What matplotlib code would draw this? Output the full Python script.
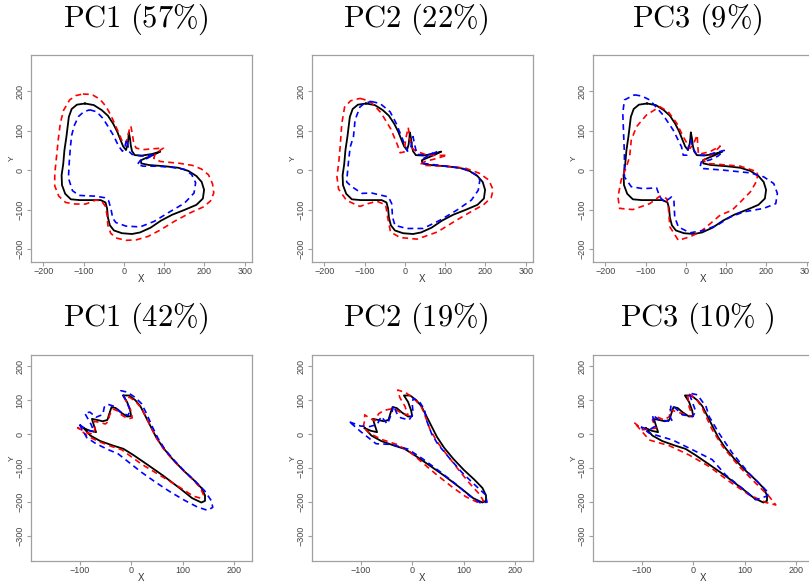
import numpy as np
import matplotlib
matplotlib.use("Agg")
import matplotlib.pyplot as plt

# ---------- Data ----------

TOP_TITLES = ["PC1\\ (57\\%)", "PC2\\ (22\\%)", "PC3\\ (9\\%)"]
BOTTOM_TITLES = ["PC1\\ (42\\%)", "PC2\\ (19\\%)", "PC3\\ (10\\%\\ )"]

TOP_XTICKS = [-200, -100, 0, 100, 200, 300]
TOP_YTICKS = [-200, -100, 0, 100, 200]
BOTTOM_XTICKS = [-100, 0, 100, 200]
BOTTOM_YTICKS = [-300, -200, -100, 0, 100, 200]

# mean outline, top row (butterfly)
TOP_MEAN = [
    (-97, 169), (-75, 165), (-55, 152), (-40, 138), (-27, 118), (-17, 98), (-8, 75),
    (-2, 60), (5, 51), (9, 65), (11, 82), (12, 96), (15, 80), (17, 62), (20, 48),
    (27, 38), (45, 37), (70, 41), (90, 47), (72, 38), (55, 31), (42, 25), (43, 17),
    (62, 13), (100, 10), (135, 6), (160, -2), (180, -15), (193, -30), (199, -50),
    (196, -72), (180, -88), (150, -101), (120, -113), (92, -128), (66, -146),
    (40, -158), (20, -162), (-5, -160), (-25, -153), (-35, -140), (-40, -120),
    (-42, -97), (-46, -82), (-58, -76), (-80, -76), (-110, -76), (-132, -74),
    (-146, -60), (-154, -38), (-155, -13), (-151, 15), (-148, 50), (-143, 85),
    (-140, 110), (-137, 135), (-130, 155), (-117, 166),
]

TOP_PC1_RED = [
    (-102, 193), (-80, 192), (-60, 180), (-45, 162), (-33, 140), (-22, 115), (-12, 92),
    (-4, 72), (4, 66), (10, 88), (14, 106), (17, 112), (21, 90), (24, 70), (30, 56),
    (48, 52), (70, 54), (98, 56), (78, 42), (74, 30), (90, 22), (140, 17), (170, 12),
    (192, 3), (210, -12), (220, -35), (223, -58), (215, -78), (198, -93), (165, -108),
    (125, -130), (90, -152), (60, -168), (30, -177), (5, -178), (-20, -172),
    (-33, -160), (-40, -140), (-42, -115), (-46, -92), (-56, -78), (-70, -76),
    (-95, -86), (-120, -86), (-145, -82), (-162, -66), (-172, -40), (-172, -10),
    (-168, 30), (-163, 80), (-158, 120), (-150, 152), (-135, 178), (-120, 189),
]

TOP_PC1_BLUE = [
    (-85, 153), (-68, 148), (-52, 131), (-38, 108), (-26, 88), (-14, 62), (-4, 48),
    (2, 56), (5, 72), (7, 78), (10, 62), (12, 48), (20, 40), (40, 36), (57, 36),
    (75, 40), (58, 30), (40, 24), (33, 14), (48, 10), (82, 10), (120, 7), (150, 2),
    (168, -11), (178, -32), (174, -58), (150, -84), (110, -108), (75, -130),
    (40, -144), (5, -142), (-20, -133), (-28, -122), (-32, -100), (-38, -78),
    (-48, -70), (-70, -66), (-95, -65), (-112, -64), (-128, -52), (-138, -20),
    (-136, 20), (-133, 60), (-130, 88), (-124, 112), (-113, 136), (-100, 148),
]

TOP_PC2_RED = [
    (-112, 182), (-87, 175), (-60, 146), (-35, 104), (-18, 62), (-12, 44), (-2, 46),
    (2, 80), (8, 108), (12, 80), (18, 55), (28, 48), (50, 40), (80, 37), (105, 38),
    (80, 30), (50, 22), (40, 16), (48, 12), (100, 10), (150, 5), (185, -8),
    (208, -25), (219, -50), (214, -70), (195, -88), (168, -103), (128, -127),
    (80, -157), (30, -175), (-12, -171), (-36, -157), (-43, -120), (-48, -88),
    (-70, -79), (-92, -85), (-112, -92), (-145, -77), (-165, -48), (-169, -17),
    (-164, 25), (-161, 60), (-157, 118), (-150, 160), (-135, 176),
]

TOP_PC2_BLUE = [
    (-83, 174), (-62, 169), (-37, 148), (-22, 119), (-5, 76), (6, 48), (14, 56),
    (20, 85), (24, 64), (30, 40), (55, 38), (80, 47), (56, 36), (44, 28), (46, 17),
    (87, 12), (145, 4), (178, -12), (186, -25), (182, -51), (165, -76), (128, -102),
    (87, -127), (45, -148), (4, -148), (-25, -140), (-31, -119), (-33, -85),
    (-41, -68), (-83, -58), (-107, -59), (-132, -42), (-145, -30), (-140, 25),
    (-136, 59), (-128, 85), (-124, 127), (-112, 160), (-100, 170),
]

TOP_PC3_RED = [
    (-65, 161), (-44, 148), (-23, 119), (-7, 85), (10, 55), (20, 70), (28, 89),
    (29, 65), (31, 40), (60, 47), (85, 61), (68, 42), (43, 25), (52, 17), (77, 15),
    (135, 10), (177, -4), (177, -25), (160, -55), (135, -81), (114, -102),
    (85, -114), (60, -136), (35, -157), (10, -169), (-19, -178), (-40, -144),
    (-44, -93), (-48, -72), (-65, -66), (-90, -85), (-132, -100), (-165, -97),
    (-169, -68), (-161, -25), (-148, 8), (-140, 34), (-136, 76), (-123, 110),
    (-98, 140),
]

TOP_PC3_BLUE = [
    (-128, 191), (-110, 188), (-90, 178), (-57, 140), (-32, 102), (-11, 59),
    (-7, 38), (2, 38), (6, 59), (12, 76), (18, 55), (27, 38), (52, 38), (75, 45),
    (95, 50), (80, 36), (60, 26), (38, 21), (35, 8), (43, 4), (93, 0), (160, -7),
    (193, -17), (218, -34), (227, -59), (223, -85), (193, -97), (143, -106),
    (110, -119), (77, -140), (43, -153), (10, -159), (-19, -144), (-28, -119),
    (-30, -76), (-36, -68), (-53, -81), (-65, -68), (-73, -45), (-107, -47),
    (-136, -42), (-153, -17), (-153, 42), (-155, 93), (-157, 144), (-153, 178),
]

# mean outline, bottom row (fork)
BOTTOM_MEAN = [
    (-92, 18), (-80, 10), (-68, 6), (-72, 25), (-76, 45), (-66, 42), (-55, 38),
    (-46, 42), (-42, 62), (-38, 80), (-30, 77), (-20, 64), (-8, 52), (0, 53),
    (-2, 70), (-8, 95), (-16, 114), (-4, 114), (8, 100), (18, 82), (26, 58),
    (36, 28), (48, -8), (62, -40), (80, -73), (100, -105), (120, -133), (136, -158),
    (143, -180), (143, -196), (136, -201), (118, -188), (95, -160), (62, -122),
    (30, -88), (4, -61), (-15, -43), (-36, -33), (-60, -20), (-79, -4),
]

BOTTOM_PC1_RED = [
    (-104, 20), (-88, 5), (-72, 0), (-70, 20), (-72, 38), (-62, 35), (-50, 30),
    (-44, 38), (-42, 55), (-36, 74), (-28, 70), (-18, 56), (-6, 45), (2, 48),
    (0, 68), (-8, 92), (-14, 110), (-2, 108), (10, 94), (20, 76), (28, 52), (38, 22),
    (50, -14), (64, -46), (82, -78), (102, -108), (120, -134), (134, -158),
    (140, -178), (134, -188), (120, -182), (98, -160), (72, -136), (46, -112),
    (20, -88), (0, -66), (-18, -46), (-38, -36), (-62, -22), (-84, -6),
]

BOTTOM_PC1_BLUE = [
    (-100, 28), (-85, 12), (-72, 8), (-78, 30), (-90, 62), (-80, 65), (-68, 50),
    (-55, 58), (-52, 80), (-45, 88), (-33, 82), (-20, 65), (-6, 55), (-2, 72),
    (-10, 100), (-20, 128), (-8, 124), (8, 108), (20, 90), (30, 60), (40, 25),
    (52, -12), (66, -46), (84, -78), (104, -110), (124, -138), (142, -166),
    (155, -195), (158, -215), (148, -224), (128, -214), (104, -195), (76, -170),
    (48, -142), (20, -112), (-5, -82), (-25, -58), (-45, -45), (-68, -28), (-86, -10),
]

BOTTOM_PC2_RED = [
    (-95, 21), (-92, 40), (-92, 57), (-80, 45), (-72, 40), (-65, 60), (-55, 70),
    (-42, 74), (-32, 72), (-20, 62), (-8, 56), (-14, 82), (-24, 108), (-28, 130),
    (-12, 122), (4, 104), (18, 80), (26, 50), (34, 16), (48, -22), (66, -58),
    (90, -105), (112, -146), (130, -176), (138, -196), (126, -200), (104, -184),
    (78, -156), (48, -120), (20, -84), (-6, -50), (-30, -30), (-58, -16), (-82, 2),
]

BOTTOM_PC2_BLUE = [
    (-121, 36), (-100, 24), (-84, 22), (-68, 28), (-60, 52), (-48, 30), (-40, 60),
    (-36, 84), (-30, 62), (-22, 48), (-6, 42), (2, 60), (0, 90), (2, 105), (14, 96),
    (24, 72), (28, 40), (38, 0), (50, -30), (72, -70), (96, -112), (122, -150),
    (142, -178), (145, -200), (132, -202), (110, -180), (84, -146), (52, -108),
    (20, -72), (-8, -44), (-40, -30), (-70, -28), (-100, 8),
]

BOTTOM_PC3_RED = [
    (-114, 34), (-98, 13), (-72, 18), (-79, 42), (-72, 52), (-56, 42), (-46, 52),
    (-45, 72), (-34, 67), (-14, 57), (-1, 52), (-8, 81), (-11, 121), (5, 106),
    (18, 76), (25, 52), (37, 13), (57, -36), (89, -95), (121, -144), (147, -183),
    (160, -208), (141, -201), (108, -178), (70, -139), (31, -95), (-8, -61),
    (-46, -34), (-85, -17),
]

BOTTOM_PC3_BLUE = [
    (-101, 21), (-85, 13), (-74, 23), (-79, 57), (-66, 42), (-40, 37), (-45, 52),
    (-43, 86), (-34, 76), (-21, 57), (-1, 52), (5, 67), (-8, 121), (8, 116),
    (25, 81), (31, 52), (50, 3), (76, -56), (108, -115), (134, -154), (147, -174),
    (141, -183), (121, -193), (95, -159), (63, -120), (37, -75), (-1, -46),
    (-40, -17), (-85, 3),
]

TOP_PANELS = [(TOP_PC1_RED, TOP_PC1_BLUE), (TOP_PC2_RED, TOP_PC2_BLUE), (TOP_PC3_RED, TOP_PC3_BLUE)]
BOTTOM_PANELS = [(BOTTOM_PC1_RED, BOTTOM_PC1_BLUE), (BOTTOM_PC2_RED, BOTTOM_PC2_BLUE),
                 (BOTTOM_PC3_RED, BOTTOM_PC3_BLUE)]

# ---------- Layout ----------

W, H = 809, 583
COL_LEFT = [31, 312, 593]
AX_W = 221
TITLE_X = [136, 416, 697]

plt.rcParams["mathtext.fontset"] = "cm"
plt.rcParams["font.family"] = ["Liberation Sans", "DejaVu Sans"]

fig = plt.figure(figsize=(W / 100, H / 100), dpi=100)


def closed(pts):
    arr = np.array(pts, dtype=float)
    return np.vstack([arr, arr[:1]])


def draw_panel(left_px, top_px, bottom_px, mean, red, blue, xlim, ylim, xticks, yticks):
    ax = fig.add_axes([left_px / W, 1 - bottom_px / H, AX_W / W, (bottom_px - top_px) / H])
    m = closed(mean)
    r = closed(red)
    b = closed(blue)
    ax.plot(m[:, 0], m[:, 1], color="black", lw=1.3, solid_joinstyle="round")
    ax.plot(r[:, 0], r[:, 1], color="#ff0000", lw=1.2, linestyle=(0, (3.5, 2.5)))
    ax.plot(b[:, 0], b[:, 1], color="#0000ff", lw=1.2, linestyle=(0, (3.5, 2.5)))
    ax.set_xlim(*xlim)
    ax.set_ylim(*ylim)
    ax.set_xticks(xticks)
    ax.set_yticks(yticks)
    for s in ax.spines.values():
        s.set_color("#a0a0a0")
        s.set_linewidth(0.9)
    ax.tick_params(direction="out", length=3, width=0.8, color="#a0a0a0",
                   labelcolor="#444444", labelsize=6.5)
    ax.tick_params(axis="x", pad=0.5)
    ax.tick_params(axis="y", pad=1.5)
    plt.setp(ax.get_yticklabels(), rotation=90, va="center")
    ax.set_xlabel("X", fontsize=7, color="#333333", labelpad=-1.5)
    ax.set_ylabel("Y", fontsize=6, color="#333333", labelpad=0)
    return ax


for i in range(3):
    red, blue = TOP_PANELS[i]
    draw_panel(COL_LEFT[i], 55, 262, TOP_MEAN, red, blue,
               (-231, 318), (-233, 292), TOP_XTICKS, TOP_YTICKS)
    fig.text(TITLE_X[i] / W, 1 - 27 / H, "$\\mathrm{" + TOP_TITLES[i] + "}$",
             fontsize=22, ha="center", va="baseline")

for i in range(3):
    red, blue = BOTTOM_PANELS[i]
    draw_panel(COL_LEFT[i], 355, 561, BOTTOM_MEAN, red, blue,
               (-194, 234), (-373, 233), BOTTOM_XTICKS, BOTTOM_YTICKS)
    fig.text(TITLE_X[i] / W, 1 - 326 / H, "$\\mathrm{" + BOTTOM_TITLES[i] + "}$",
             fontsize=22, ha="center", va="baseline")

fig.savefig("out.png", dpi=100)
